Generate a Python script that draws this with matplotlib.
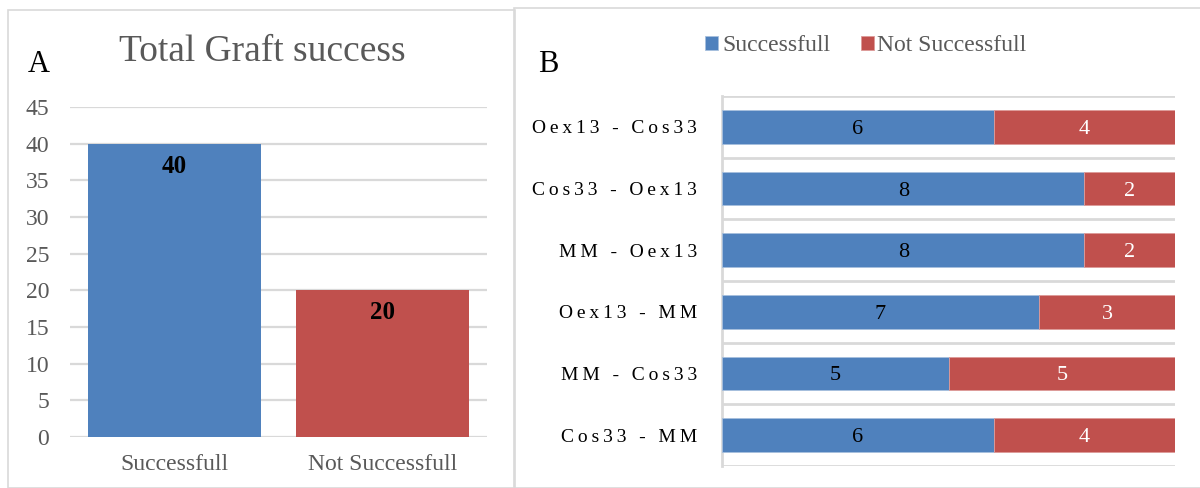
import matplotlib
matplotlib.use('Agg')
import matplotlib.pyplot as plt
import numpy as np
from matplotlib.patches import Rectangle

plt.rcParams['font.family'] = ['Liberation Serif', 'DejaVu Serif']

# panel A data
total_cats = ['Successfull', 'Not Successfull']
total_vals = [40, 20]
a_ticks = [0, 5, 10, 15, 20, 25, 30, 35, 40, 45]

# panel B data (top to bottom)
pairs = ['Oex13 - Cos33', 'Cos33 - Oex13', 'MM - Oex13', 'Oex13 - MM', 'MM - Cos33', 'Cos33 - MM']
succ = [6, 8, 8, 7, 5, 6]
not_succ = [4, 2, 2, 3, 5, 4]

blue = '#4f81bd'
red = '#c0504d'
grey_txt = '#595959'
grid_c = '#d9d9d9'

W, H = 1200, 488
fig = plt.figure(figsize=(12, 4.88), dpi=100)

# panel borders
fig.patches.append(Rectangle((8 / W, 0), 507 / W, (H - 10) / H, transform=fig.transFigure,
                             fill=False, edgecolor='#d9d9d9', lw=1.2))
fig.patches.append(Rectangle((514 / W, 0), 700 / W, (H - 8) / H, transform=fig.transFigure,
                             fill=False, edgecolor='#d9d9d9', lw=1.2))

# ---- panel A ----
axA = fig.add_axes([70 / W, (H - 437) / H, 417 / W, 330 / H])
x = np.arange(len(total_cats))
axA.bar(x, total_vals, width=0.83, color=[blue, red], zorder=3)
axA.set_xlim(-0.5, 1.5)
axA.set_ylim(0, 45)
axA.set_yticks(a_ticks)
axA.set_xticks(x)
axA.set_xticklabels(total_cats)
axA.tick_params(axis='both', length=0, labelsize=17, colors=grey_txt)
axA.tick_params(axis='x', pad=12)
axA.tick_params(axis='y', pad=15)
axA.grid(axis='y', color=grid_c, lw=1.6, zorder=0)
for s in axA.spines.values():
    s.set_visible(False)
for xi, v in zip(x, total_vals):
    axA.text(xi, v - 1.5, str(v), ha='center', va='top', fontsize=18, fontweight='bold', color='black', zorder=4)
fig.text(262 / W, 1 - 52 / H, 'Total Graft success', ha='center', va='center', fontsize=27, color=grey_txt)
fig.text(39 / W, 1 - 64 / H, 'A', ha='center', va='center', fontsize=22, color='black')

# ---- panel B ----
axB = fig.add_axes([722 / W, (H - 466) / H, 453 / W, 370 / H])
y = np.arange(len(pairs))
axB.barh(y, succ, height=0.55, color=blue, edgecolor='#a7c0de', lw=0.6, zorder=3, label='Successfull')
axB.barh(y, not_succ, left=succ, height=0.55, color=red, edgecolor='#dd9b99', lw=0.6, zorder=3, label='Not Successfull')
axB.set_xlim(0, 10)
axB.set_ylim(len(pairs) - 0.5, -0.5)
axB.set_xticks([])
axB.set_yticks(y)
spaced = ['\u2009'.join(p) for p in pairs]
axB.set_yticklabels(spaced)
axB.set_yticks(np.arange(len(pairs) + 1) - 0.5, minor=True)
axB.tick_params(axis='y', which='both', length=0, labelsize=14, colors='black', pad=18)
axB.grid(axis='y', which='minor', color=grid_c, lw=2, zorder=0)
axB.grid(axis='y', which='major', visible=False)
for k in ['top', 'right', 'bottom']:
    axB.spines[k].set_visible(False)
axB.spines['left'].set_color(grid_c)
axB.spines['left'].set_linewidth(2)
for yi, a, b in zip(y, succ, not_succ):
    axB.text(a / 2, yi, str(a), ha='center', va='center_baseline', fontsize=16, color='black', zorder=4)
    axB.text(a + b / 2, yi, str(b), ha='center', va='center_baseline', fontsize=16, color='white', zorder=4)
leg = fig.legend(*axB.get_legend_handles_labels(), loc='center', bbox_to_anchor=(866 / W, 1 - 46 / H),
                 ncol=2, frameon=False, fontsize=17, handlelength=0.55, handleheight=0.55,
                 handletextpad=0.15, columnspacing=1.3)
for t in leg.get_texts():
    t.set_color(grey_txt)
fig.text(548 / W, 1 - 65 / H, 'B', ha='center', va='center', fontsize=22, color='black')

fig.savefig('out.png', dpi=100)
